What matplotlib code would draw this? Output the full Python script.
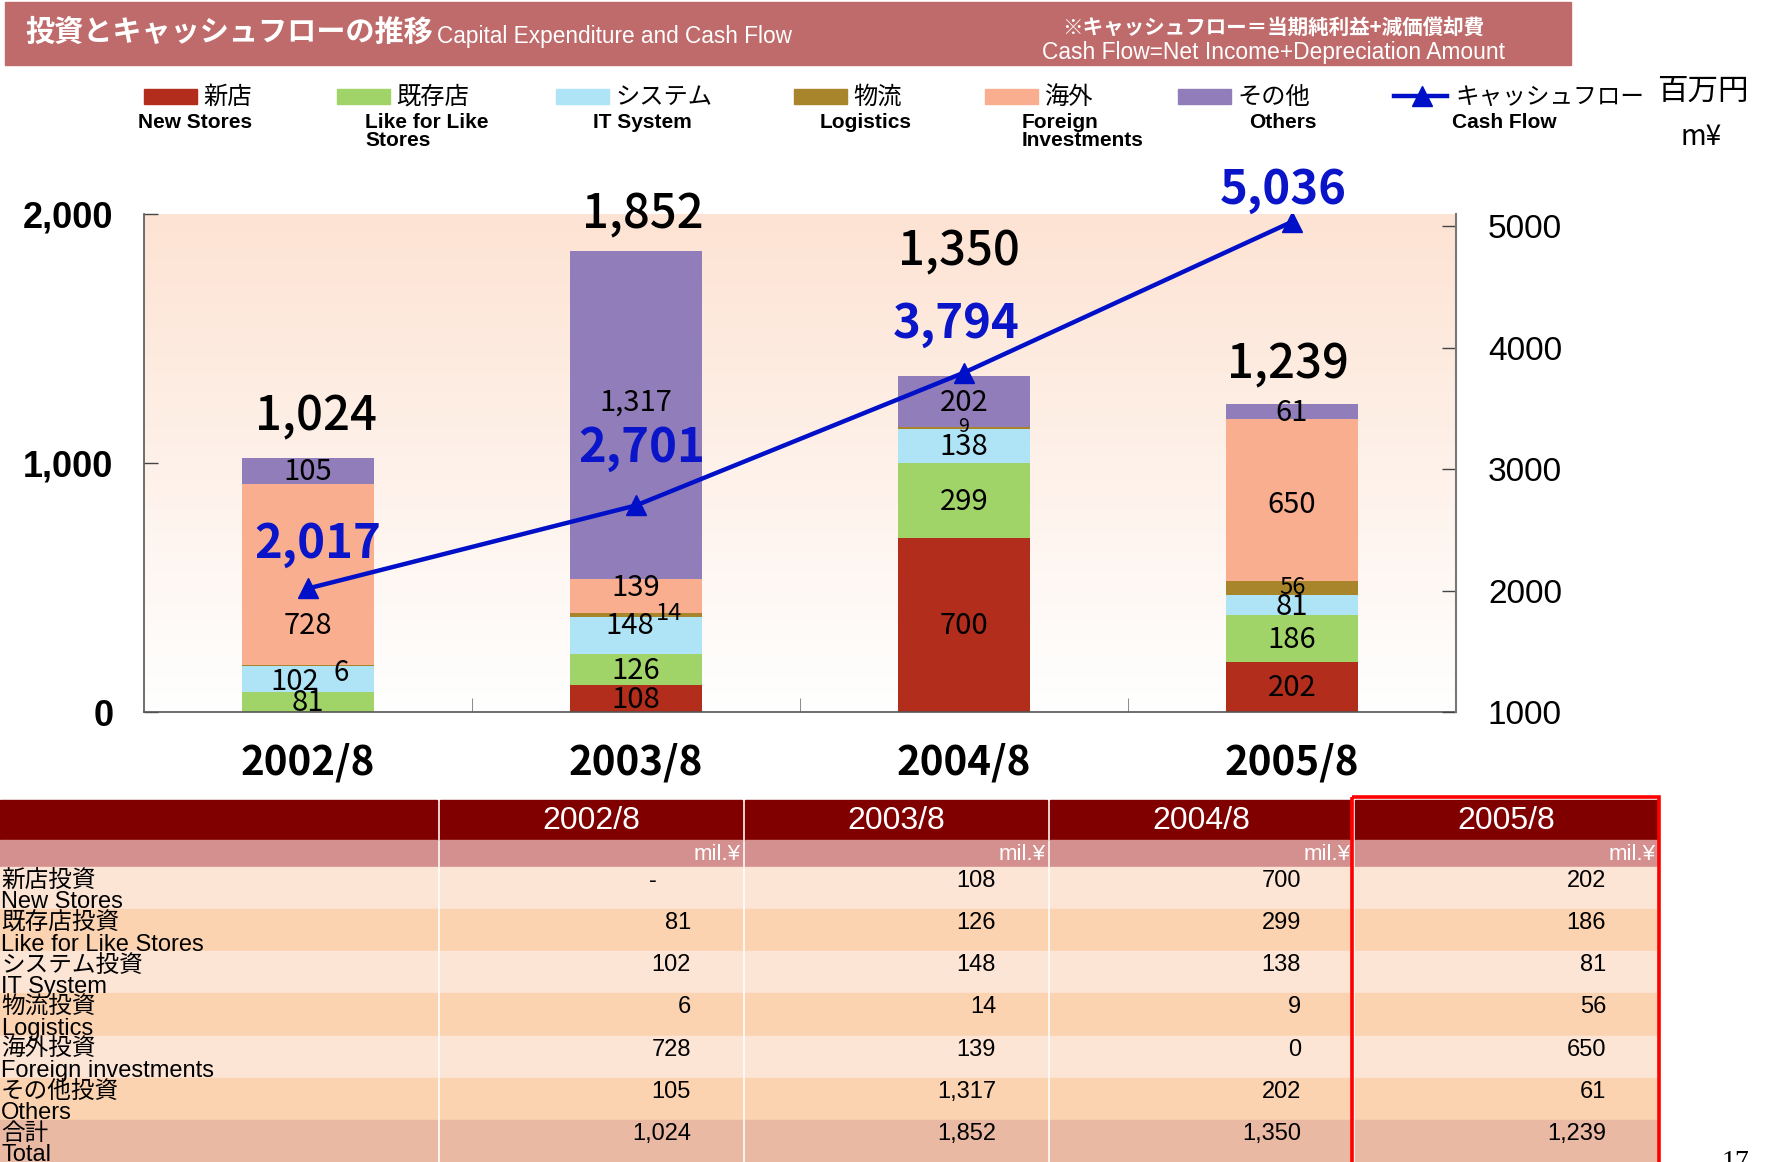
import numpy as np
import matplotlib
matplotlib.use('Agg')
import matplotlib.pyplot as plt
from matplotlib.patches import Rectangle
from matplotlib.colors import LinearSegmentedColormap

plt.rcParams['font.family'] = ['Noto Sans CJK JP', 'DejaVu Sans']
EN = ['Liberation Sans', 'DejaVu Sans']

# data (million yen)
years = ['2002/8', '2003/8', '2004/8', '2005/8']
cat_jp = ['新店', '既存店', 'システム', '物流', '海外', 'その他']
cat_en = ['New Stores', 'Like for Like\nStores', 'IT System', 'Logistics', 'Foreign\nInvestments', 'Others']
row_jp = ['新店投資', '既存店投資', 'システム投資', '物流投資', '海外投資', 'その他投資', '合計']
row_en = ['New Stores', 'Like for Like Stores', 'IT System', 'Logistics', 'Foreign investments', 'Others', 'Total']

new_stores = [None, 108, 700, 202]
like_for_like = [81, 126, 299, 186]
it_system = [102, 148, 138, 81]
logistics = [6, 14, 9, 56]
foreign = [728, 139, 0, 650]
others = [105, 1317, 202, 61]
totals = [1024, 1852, 1350, 1239]
cash_flow = [2017, 2701, 3794, 5036]

series = [new_stores, like_for_like, it_system, logistics, foreign, others]
colors = ['#B22D1B', '#A0D468', '#AEE4F5', '#A8842A', '#F9AE8F', '#917DBA']
cf_color = '#0010C8'

# label nudges: (category, year) -> (dx, dy in data units, fontsize)
nudge = {(2, 0): (-0.04, -10, 21), (3, 0): (0.10, -28, 20), (4, 0): (0, -209, 21),
         (2, 1): (-0.02, 36, 21), (3, 1): (0.10, 5, 17), (4, 1): (0, 32, 21),
         (5, 1): (0, 50, 21), (3, 2): (0, 4, 14), (3, 3): (0, 5, 17), (4, 3): (0, -17, 21)}
total_off = [(6, 29), (5, 26), (-4, 89), (-3, 28)]
cf_off = [(7, 32), (4, 41), (-6, 35), (-6, 23)]

fig = plt.figure(figsize=(17.66, 11.62), dpi=100)

# overlay in pixel coords for header, legend and table
ov = fig.add_axes([0, 0, 1, 1])
ov.set_xlim(0, 1766)
ov.set_ylim(1162, 0)
ov.axis('off')

# header band
ov.add_patch(Rectangle((5, 2), 1566, 63, color='#C06B6B'))
ov.text(25, 32, '投資とキャッシュフローの推移', color='white', fontsize=21,
        fontweight='bold', va='center')
ov.text(437, 36, 'Capital Expenditure and Cash Flow', color='white', fontsize=16.3,
        family=EN, va='center')
ov.text(1273, 27, '※キャッシュフロー＝当期純利益+減価償却費', color='white',
        fontsize=14.8, fontweight='bold', ha='center', va='center')
ov.text(1273, 53, 'Cash Flow=Net Income+Depreciation Amount', color='white',
        fontsize=16.4, family=EN, ha='center', va='center')

# legend
leg_x = [144, 337, 556, 794, 985, 1178]
en_pos = [(195, 'center'), (365, 'left'), (642, 'center'), (866, 'center'),
          (1022, 'left'), (1283, 'center')]
for k in range(len(cat_jp)):
    ov.add_patch(Rectangle((leg_x[k], 89), 53, 15, color=colors[k]))
    ov.text(leg_x[k] + 59, 97, cat_jp[k], fontsize=17.5, va='center')
    ov.text(en_pos[k][0], 113, cat_en[k], fontsize=15, fontweight='bold',
            family=EN, ha=en_pos[k][1], va='top', linespacing=0.95)
ov.plot([1394, 1447], [96, 96], color=cf_color, lw=3.2)
ov.plot([1422], [96], marker='^', color=cf_color, ms=14)
ov.text(1455, 97, 'キャッシュフロー', fontsize=17, va='center')
ov.text(1504, 113, 'Cash Flow', fontsize=15, fontweight='bold', family=EN,
        ha='center', va='top')
ov.text(1703, 91, '百万円', fontsize=22, ha='center', va='center')
ov.text(1701, 137, 'm¥', fontsize=20, ha='center', va='center')

# table
lab_w, gap, col_w = 437, 3, 302
top, head_h, mil_h, row_h = 800, 40, 27, 42.16
row_cols = ['#FDE5D6', '#FCD3B1'] * 3 + ['#E9B9A3']
table_vals = series + [totals]
lefts = [0] + [lab_w + gap + i * (col_w + gap) for i in range(len(years))]
widths = [lab_w] + [col_w] * len(years)
for c in range(len(lefts)):
    ov.add_patch(Rectangle((lefts[c], top), widths[c], head_h, color='#800000'))
    ov.add_patch(Rectangle((lefts[c], top + head_h), widths[c], mil_h, color='#D48F8F'))
    for r in range(len(row_jp)):
        y0 = top + head_h + mil_h + r * row_h
        ov.add_patch(Rectangle((lefts[c], y0), widths[c], row_h, color=row_cols[r]))
for r in range(len(row_jp)):
    y0 = top + head_h + mil_h + r * row_h
    ov.text(1, y0 + 14, row_jp[r], fontsize=17, va='center')
    ov.text(1, y0 + 35.5, row_en[r], fontsize=17, family=EN, va='center')
for i, yr in enumerate(years):
    cl, cr = lefts[i + 1], lefts[i + 1] + col_w
    ov.text((cl + cr) / 2, top + 21, yr, color='white', fontsize=23, family=EN,
            ha='center', va='center')
    ov.text(cr - 1, top + head_h + 15, 'mil.¥', color='white', fontsize=16,
            family=EN, ha='right', va='center')
    for r in range(len(row_jp)):
        y0 = top + head_h + mil_h + r * row_h
        v = table_vals[r][i]
        if v is None:
            ov.text(cr - 85, y0 + 14, '-', fontsize=17, family=EN, ha='right', va='center')
        else:
            ov.text(cr - 51, y0 + 14, f'{v:,}', fontsize=17, family=EN,
                    ha='right', va='center')
ov.add_patch(Rectangle((lefts[4] - 3, top - 3), col_w + 5, 1162 - top + 6, fill=False,
                       ec='#FF0000', lw=2.6))
ov.text(1722, 1150, '17', fontsize=20, family=['Liberation Serif'], va='top')

# chart
ax = fig.add_axes([144 / 1766, 1 - 712 / 1162, 1312 / 1766, 498 / 1162])
ax.set_facecolor('none')
x = np.arange(len(years))
grad = np.linspace(0, 1, 256).reshape(-1, 1)
cmap = LinearSegmentedColormap.from_list('bg', ['#FFFFFF', '#FDE3D3'])
ax.imshow(grad, extent=(-0.5, 3.5, 0, 2000), origin='lower', aspect='auto',
          cmap=cmap, zorder=0)

bottom = np.zeros(len(years))
for k, s in enumerate(series):
    vals = np.array([0 if v is None else v for v in s], float)
    ax.bar(x, vals, 0.4, bottom=bottom, color=colors[k], zorder=2)
    for i, v in enumerate(s):
        if not v:
            continue
        dx, dy, fs = nudge.get((k, i), (0, -5, 21))
        ax.text(x[i] + dx, bottom[i] + v / 2 + dy, f'{v:,}', fontsize=fs,
                ha='center', va='center', zorder=3)
    bottom += vals

for i, t in enumerate(totals):
    ax.annotate(f'{t:,}', (x[i], t), xytext=total_off[i], textcoords='offset points',
                ha='center', va='center', fontsize=34, fontweight='medium')

ax.set_xlim(-0.5, 3.5)
ax.set_ylim(0, 2000)
ax.set_yticks([0, 1000, 2000], ['0', '1,000', '2,000'])
for lab in ax.get_yticklabels():
    lab.set_family(EN)
    lab.set_fontweight('bold')
ax.tick_params(axis='y', direction='in', length=10, width=1, color='#444',
               labelsize=26, pad=22)
ax.set_xticks(x, years)
ax.set_xticks([0.5, 1.5, 2.5], minor=True)
ax.tick_params(axis='x', which='major', length=0, labelsize=29, pad=22)
ax.tick_params(axis='x', which='minor', direction='in', length=10, color='#777')
for lab in ax.get_xticklabels():
    lab.set_fontweight('bold')
for sp in ['top', 'right']:
    ax.spines[sp].set_visible(False)
for sp in ['left', 'bottom']:
    ax.spines[sp].set_color('#555')
    ax.spines[sp].set_linewidth(1.2)

ax2 = ax.twinx()
ax2.plot(x, cash_flow, color=cf_color, lw=3.2, marker='^', ms=15, zorder=4)
for i, v in enumerate(cash_flow):
    ax2.annotate(f'{v:,}', (x[i], v), xytext=cf_off[i], textcoords='offset points',
                 ha='center', va='center', fontsize=34, fontweight='bold', color='#0A14C8')
ax2.set_ylim(1000, 5100)
ax2.set_yticks([1000, 2000, 3000, 4000, 5000])
for lab in ax2.get_yticklabels():
    lab.set_family(EN)
ax2.tick_params(axis='y', direction='in', length=10, width=1, color='#444',
                labelsize=24, pad=23)
for sp in ['top', 'left', 'bottom']:
    ax2.spines[sp].set_visible(False)
ax2.spines['right'].set_color('#777')
ax2.spines['right'].set_linewidth(1.5)

fig.savefig('out.png', dpi=100)
